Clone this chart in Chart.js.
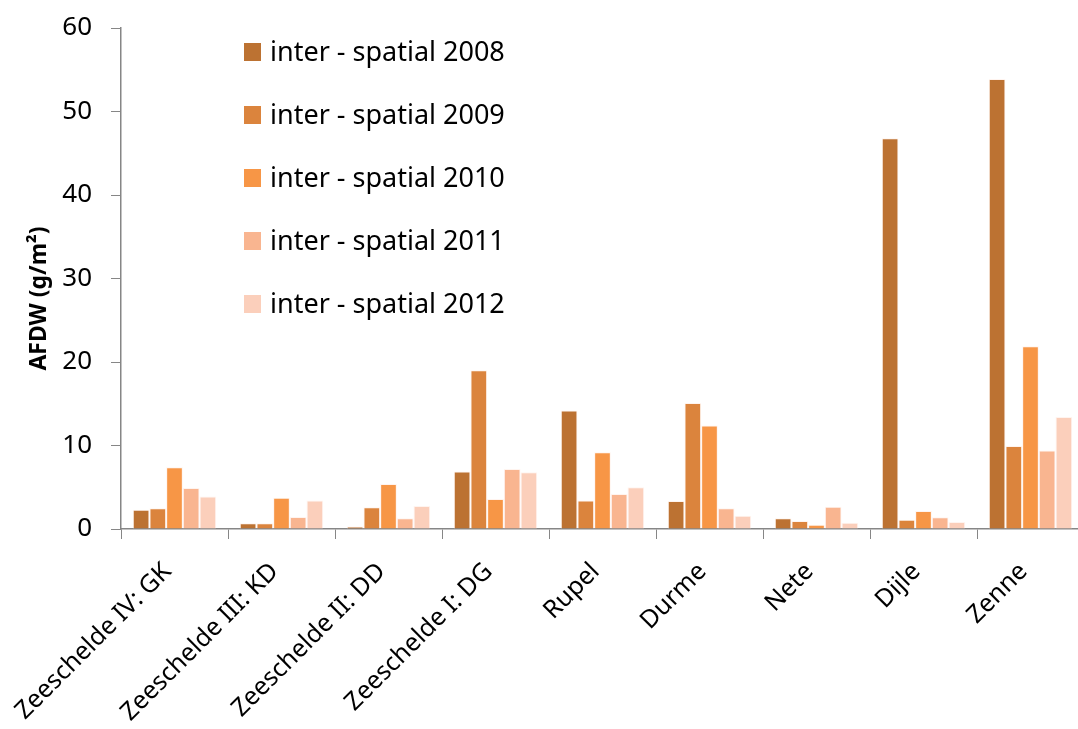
<!DOCTYPE html>
<html>
<head>
<meta charset="utf-8">
<script src="https://cdn.jsdelivr.net/npm/chart.js@4"></script>
<style>
  html, body { margin: 0; padding: 0; background: #fff; overflow: hidden; }
  #wrap { width: 1090px; height: 729px; }
</style>
</head>
<body>
<div id="wrap"><canvas id="afdwChart" width="1090" height="729"></canvas></div>
<script>
// sites along the estuary, downstream to upstream
const sites = ["Zeeschelde IV: GK", "Zeeschelde III: KD", "Zeeschelde II: DD", "Zeeschelde I: DG",
  "Rupel", "Durme", "Nete", "Dijle", "Zenne"];

// AFDW (g/m²) per year
const afdw2008 = [2.3, 0.7, 0.3, 6.9, 14.2, 3.35, 1.3, 46.8, 53.9];
const afdw2009 = [2.5, 0.7, 2.6, 19.0, 3.4, 15.1, 0.95, 1.1, 9.95];
const afdw2010 = [7.4, 3.75, 5.4, 3.6, 9.2, 12.4, 0.5, 2.15, 21.9];
const afdw2011 = [4.9, 1.45, 1.3, 7.2, 4.2, 2.5, 2.65, 1.4, 9.4];
const afdw2012 = [3.9, 3.4, 2.75, 6.8, 5.0, 1.6, 0.75, 0.85, 13.4];

const yTicks = [0, 10, 20, 30, 40, 50, 60];

const seriesNames = ["inter - spatial 2008", "inter - spatial 2009", "inter - spatial 2010",
  "inter - spatial 2011", "inter - spatial 2012"];
const seriesValues = [afdw2008, afdw2009, afdw2010, afdw2011, afdw2012];
const seriesColors = ["#BC7232", "#DB843D", "#F79646", "#F9B590", "#FBCFBB"];

const yTitle = "AFDW (g/m²)";
const FONT = "'Noto Sans', sans-serif";

// legend drawn as a column in the upper left of the plot, plus the y title
const columnLegend = {
  id: "columnLegend",
  afterDraw(chart) {
    const ctx = chart.ctx;
    const area = chart.chartArea;
    ctx.save();
    ctx.font = "27px " + FONT;
    ctx.textBaseline = "middle";
    chart.data.datasets.forEach((ds, i) => {
      const y = area.top + 24 + i * 63;
      ctx.fillStyle = ds.backgroundColor;
      ctx.fillRect(area.left + 123, y - 9, 17, 18);
      ctx.fillStyle = "#000";
      ctx.fillText(ds.label, area.left + 149, y + 1);
    });

    ctx.translate(39, (area.top + area.bottom) / 2 + 20);
    ctx.rotate(-Math.PI / 2);
    ctx.font = "bold 23px " + FONT;
    ctx.textAlign = "center";
    ctx.fillText(yTitle, 0, 0);
    ctx.restore();
  }
};

new Chart(document.getElementById("afdwChart"), {
  type: "bar",
  data: {
    labels: sites,
    datasets: seriesNames.map((name, i) => ({
      label: name,
      data: seriesValues[i],
      backgroundColor: seriesColors[i],
      borderColor: "rgba(255,240,232,0.7)",
      borderWidth: 1,
      categoryPercentage: 0.78,
      barPercentage: 1.0
    }))
  },
  options: {
    responsive: false,
    animation: false,
    devicePixelRatio: 1,
    layout: { padding: { top: 28, right: 6, left: 0, bottom: 0 } },
    plugins: {
      legend: { display: false },
      tooltip: { enabled: false }
    },
    scales: {
      x: {
        grid: { display: true, drawOnChartArea: false, offset: true, tickLength: 10, color: "#868686" },
        border: { color: "#868686", width: 1.5 },
        ticks: {
          color: "#000",
          font: { family: FONT, size: 25 },
          minRotation: 45,
          maxRotation: 45,
          padding: 18,
          labelOffset: -7
        },
        afterFit(scale) {
          scale.height = 200;
          scale.paddingLeft = 0;
          scale.paddingRight = 0;
        }
      },
      y: {
        min: 0,
        max: 60,
        afterBuildTicks(scale) { scale.ticks = yTicks.map(v => ({ value: v })); },
        grid: { display: true, drawOnChartArea: false, tickLength: 10, color: "#868686" },
        border: { color: "#868686", width: 1.5 },
        ticks: {
          color: "#000",
          font: { family: FONT, size: 26 },
          padding: 19
        },
        afterFit(scale) {
          scale.width = 121;
          scale.paddingTop = 0;
          scale.paddingBottom = 0;
        }
      }
    }
  },
  plugins: [columnLegend]
});
</script>
</body>
</html>
